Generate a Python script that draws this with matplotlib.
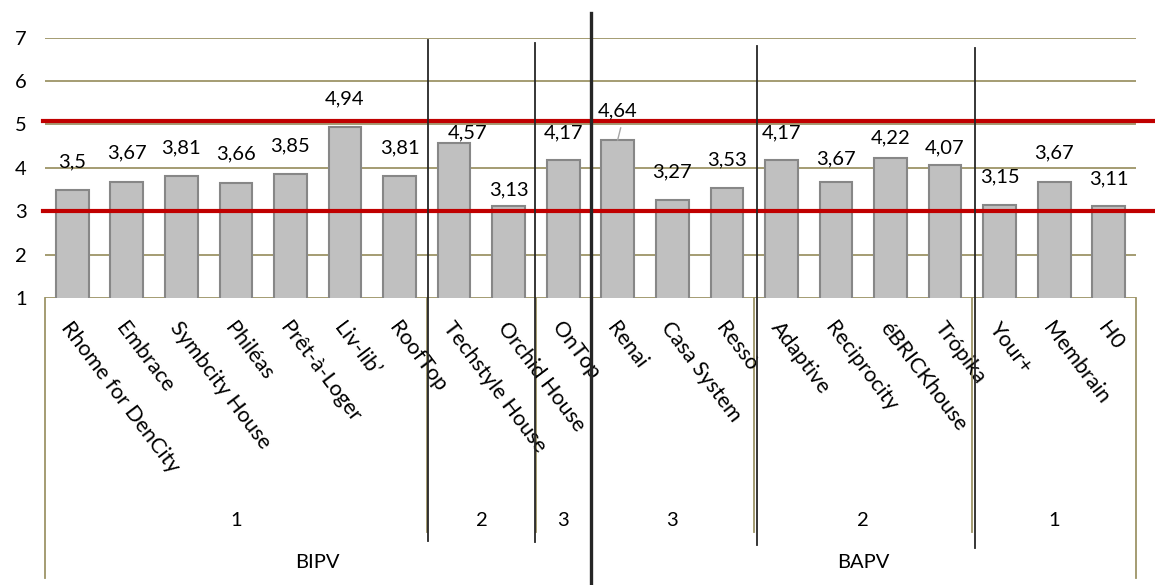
import numpy as np
import matplotlib.pyplot as plt
from matplotlib.transforms import blended_transform_factory

plt.rcParams['font.family'] = ['Lato', 'DejaVu Sans']

projects = ['Rhome for DenCity', 'Embrace', 'Symbcity House', 'Philéas', 'Prêt-à-Loger',
            'Liv-lib’', 'RoofTop', 'Techstyle House', 'Orchid House', 'OnTop',
            'Renai', 'Casa System', 'Ressò', 'Adaptive', 'Reciprocity',
            'éBRICKhouse', 'Trópika', 'Your+', 'Membrain', 'H0']
scores = [3.5, 3.67, 3.81, 3.66, 3.85, 4.94, 3.81, 4.57, 3.13, 4.17,
          4.64, 3.27, 3.53, 4.17, 3.67, 4.22, 4.07, 3.15, 3.67, 3.11]
levels = ['1', '2', '3', '3', '2', '1']
level_sizes = [7, 2, 1, 3, 4, 3]
types = ['BIPV', 'BAPV']
type_sizes = [10, 10]
limits = [3, 5.08]

# where Excel left the value labels (moved by hand in the original)
label_y = [4.135, 4.34, 4.45, 4.32, 4.5, 5.59, 4.45, 4.80, 3.49, 4.80,
           5.31, 3.9, 4.18, 4.80, 4.2, 4.69, 4.47, 3.79, 4.34, 3.74]
label_dx = [0] * 20
label_dx[7] = 0.24

W, H = 1155, 585
fig = plt.figure(figsize=(W / 100, H / 100), dpi=100)
ax = fig.add_axes([45 / W, (H - 298) / H, 1091 / W, (298 - 37.7) / H])
trans = blended_transform_factory(ax.transData, fig.transFigure)

def fy(p):
    return 1 - p / H

grid_c = '#9d9467'
fs = 14.5

x = np.arange(len(scores))
ax.bar(x, scores, width=0.6, bottom=0, color='#c0c0c0', edgecolor='#878787',
       linewidth=1.5, zorder=2)
ax.set_xlim(-0.5, 19.5)
ax.set_ylim(1, 7)
for v in range(1, 8):
    ax.axhline(v, color=grid_c, lw=1.3, zorder=1)
for s in ax.spines.values():
    s.set_visible(False)
ax.set_xticks([])
ax.set_yticks(range(1, 8))
ax.tick_params(axis='y', length=0, pad=13, labelsize=fs)

# value labels
for i, v in enumerate(scores):
    ax.text(i + label_dx[i], label_y[i], f'{v:g}'.replace('.', ','),
            ha='center', va='center', fontsize=fs, zorder=5)
ax.plot([9.998, 10.053], [4.642, 4.92], color='#a6a6a6', lw=1, zorder=4)

# limit lines
for lim in limits:
    ax.plot([-0.54, 19.9], [lim, lim], color='#c00000', lw=3, zorder=3,
            clip_on=False)

# category labels
for i, name in enumerate(projects):
    ax.text(i + 0.02, fy(318), name, transform=trans, rotation=-53,
            rotation_mode='anchor', ha='left', va='top', fontsize=15.5)

# multi-level axis box
edges = np.cumsum([0] + level_sizes) - 0.5
for i, lab in enumerate(levels):
    ax.text((edges[i] + edges[i + 1]) / 2, fy(521), lab, transform=trans,
            ha='center', va='center', fontsize=fs)
    if 0 < i:
        ax.plot([edges[i]] * 2, [fy(298), fy(532)], transform=trans,
                color=grid_c, lw=1.3, clip_on=False)
tedges = np.cumsum([0] + type_sizes) - 0.5
for i, lab in enumerate(types):
    ax.text((tedges[i] + tedges[i + 1]) / 2, fy(562), lab, transform=trans,
            ha='center', va='center', fontsize=fs)
for e in tedges:
    ax.plot([e, e], [fy(298), fy(578)], transform=trans, color=grid_c,
            lw=1.3, clip_on=False)

# hand-drawn separators
seps = [(6.52, 40, 541, 1.3), (8.48, 43, 542, 1.3), (9.51, 13, 585, 2.4),
        (12.55, 46, 545, 1.3), (16.55, 48, 548, 1.3)]
for sx, top, bot, lw in seps:
    ax.plot([sx, sx], [fy(top), fy(bot)], transform=trans, color='#262626',
            lw=lw, clip_on=False, zorder=6)

fig.savefig('out.png', dpi=100)
